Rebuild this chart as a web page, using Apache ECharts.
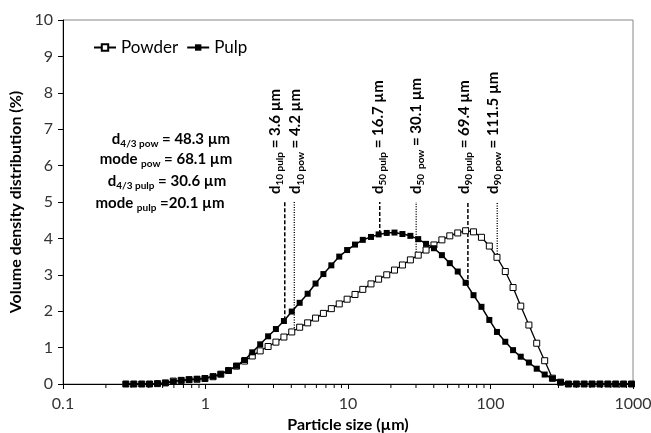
<!DOCTYPE html>
<html>
<head>
<meta charset="utf-8">
<script src="https://cdn.jsdelivr.net/npm/echarts@6/dist/echarts.min.js"></script>
<style>
  html, body { margin: 0; padding: 0; background: #fff; }
  #myChart { width: 651px; height: 433px; }
</style>
</head>
<body>
<div id="myChart"></div>
<script>
// particle size classes (µm)
var sizes = [0.276, 0.314, 0.357, 0.405, 0.460, 0.523, 0.594, 0.675, 0.767, 0.872,
    0.991, 1.13, 1.28, 1.45, 1.65, 1.88, 2.13, 2.42, 2.75, 3.12,
    3.55, 4.03, 4.58, 5.21, 5.92, 6.72, 7.64, 8.68, 9.86, 11.2,
    12.7, 14.5, 16.4, 18.7, 21.2, 24.1, 27.4, 31.1, 35.3, 40.1,
    45.6, 51.8, 58.9, 66.9, 76.0, 86.4, 98.1, 111, 127, 144,
    163, 186, 211, 240, 272, 310, 352, 400, 454, 516,
    586, 666, 756, 859, 976];

var powder = [0, 0, 0, 0, 0.01, 0.03, 0.08, 0.10, 0.12, 0.13,
    0.15, 0.20, 0.27, 0.37, 0.49, 0.63, 0.77, 0.91, 1.03, 1.15,
    1.29, 1.43, 1.56, 1.68, 1.81, 1.94, 2.07, 2.20, 2.33, 2.46,
    2.60, 2.75, 2.88, 3.00, 3.13, 3.27, 3.41, 3.54, 3.68, 3.82,
    3.96, 4.07, 4.15, 4.21, 4.18, 4.03, 3.79, 3.48, 3.09, 2.65,
    2.14, 1.62, 1.12, 0.64, 0.16, 0.05, 0, 0, 0, 0,
    0, 0, 0, 0, 0];

var pulp = [0, 0, 0, 0, 0.01, 0.03, 0.07, 0.10, 0.12, 0.14,
    0.16, 0.21, 0.27, 0.37, 0.50, 0.66, 0.87, 1.09, 1.31, 1.51,
    1.73, 1.99, 2.23, 2.48, 2.76, 3.02, 3.26, 3.50, 3.68, 3.83,
    3.96, 4.04, 4.11, 4.15, 4.16, 4.12, 4.07, 3.98, 3.85, 3.73,
    3.54, 3.32, 3.09, 2.78, 2.44, 2.12, 1.76, 1.43, 1.16, 0.93,
    0.75, 0.59, 0.42, 0.26, 0.15, 0.05, 0, 0, 0, 0,
    0, 0, 0, 0, 0];

// d10 / d50 / d90 markers
var dSubs = ['10 pulp', '10 pow', '50 pulp', '50  pow', '90 pulp', '90 pow'];
var dValues = [3.6, 4.2, 16.7, 30.1, 69.4, 111.5];
var dTexts = ['= 3.6 µm', '= 4.2 µm', '= 16.7 µm', '= 30.1 µm', '= 69.4 µm', '= 111.5 µm'];
var dBottom = [1.75, 1.47, 4.12, 3.55, 2.72, 3.50];
var dTop = 5.0;
// sideways nudge of each rotated label (px, negative = left)
var dShift = [-10, 1, -2, 0, -4, -4];

var xTickLabels = ['0.1', '1', '10', '100', '1000'];
var xMinorTicks = [0.2, 0.3, 0.4, 0.5, 0.6, 0.7, 0.8, 0.9,
    2, 3, 4, 5, 6, 7, 8, 9,
    20, 30, 40, 50, 60, 70, 80, 90,
    200, 300, 400, 500, 600, 700, 800, 900];

var FONT = 'Lato, "Open Sans", sans-serif';

function pairs(xs, ys) {
    var out = [];
    for (var i = 0; i < xs.length; i++) out.push([xs[i], ys[i]]);
    return out;
}

var richLabel = {
    b: { fontSize: 15, fontWeight: 'bold', fontFamily: FONT, color: '#000', lineHeight: 20, verticalAlign: 'middle' },
    s: { fontSize: 10, fontWeight: 'bold', fontFamily: FONT, color: '#000', lineHeight: 10, verticalAlign: 'bottom' }
};

var series = [];

// vertical d-lines with rotated labels
for (var k = 0; k < dValues.length; k++) {
    var isPulp = dSubs[k].indexOf('pulp') >= 0;
    series.push({
        type: 'line',
        silent: true,
        symbol: 'circle',
        symbolSize: 0,
        showSymbol: true,
        z: 1,
        itemStyle: { color: 'transparent' },
        lineStyle: { color: '#000', width: isPulp ? 1.5 : 1.4, type: isPulp ? [4, 2] : [1, 1.5] },
        // label is rotated, so dy moves it sideways on screen
        labelLayout: { hideOverlap: false, dy: dShift[k] },
        data: [
            [dValues[k], dBottom[k]],
            {
                value: [dValues[k], dTop],
                label: {
                    show: true,
                    position: 'top',
                    distance: 8,
                    rotate: 90,
                    align: 'left',
                    verticalAlign: 'middle',
                    formatter: '{b|d}{s|' + dSubs[k] + '}{b| ' + dTexts[k] + '}',
                    rich: richLabel
                }
            }
        ]
    });
}

series.push({
    name: 'Powder',
    type: 'line',
    z: 3,
    symbol: 'rect',
    symbolSize: 6,
    lineStyle: { color: '#000', width: 1.3 },
    itemStyle: { color: '#fff', borderColor: '#000', borderWidth: 1 },
    data: pairs(sizes, powder)
});

series.push({
    name: 'Pulp',
    type: 'line',
    z: 4,
    symbol: 'rect',
    symbolSize: 6,
    lineStyle: { color: '#000', width: 1.5 },
    itemStyle: { color: '#000' },
    data: pairs(sizes, pulp)
});

// minor log ticks under the x axis
series.push({
    type: 'custom',
    silent: true,
    clip: false,
    z: 5,
    data: xMinorTicks.map(function (v) { return [v, 0]; }),
    renderItem: function (params, api) {
        var p = api.coord([api.value(0), 0]);
        return {
            type: 'line',
            shape: { x1: p[0], y1: p[1], x2: p[0], y2: p[1] + 4 },
            style: { stroke: '#000', lineWidth: 1 }
        };
    }
});

function noteText(x, y, str) {
    return {
        type: 'text',
        x: x, y: y,
        style: { text: str, align: 'center', verticalAlign: 'middle', rich: richLabel }
    };
}

var myChart = echarts.init(document.getElementById('myChart'));
myChart.setOption({
    animation: false,
    backgroundColor: '#fff',
    grid: {
        left: 63, right: 18, top: 20, bottom: 49,
        show: true, borderColor: '#888', borderWidth: 1,
        outerBoundsMode: 'none'
    },
    legend: {
        data: ['Powder', 'Pulp'],
        left: 88, top: 34,
        itemWidth: 22, itemHeight: 8, itemGap: 8,
        textStyle: { fontSize: 17, fontFamily: FONT, color: '#000' }
    },
    xAxis: {
        type: 'log',
        logBase: 10,
        min: 0.1,
        max: 1000,
        name: 'Particle size (µm)',
        nameLocation: 'middle',
        nameGap: 30,
        nameTextStyle: { fontSize: 16, fontWeight: 'bold', fontFamily: FONT, color: '#000' },
        axisLine: { lineStyle: { color: '#000', width: 1 } },
        axisTick: { show: true, inside: false, length: 5, lineStyle: { color: '#000' } },
        axisLabel: {
            margin: 12, fontSize: 16, fontFamily: FONT, color: '#333',
            formatter: function (v) {
                var i = Math.round(Math.log10(v)) + 1;
                return xTickLabels[i] !== undefined ? xTickLabels[i] : '';
            }
        },
        splitLine: { show: false }
    },
    yAxis: {
        type: 'value',
        min: 0,
        max: 10,
        interval: 1,
        name: 'Volume density distribution (%)',
        nameLocation: 'middle',
        nameGap: 33,
        nameTextStyle: { fontSize: 16, fontWeight: 'bold', fontFamily: FONT, color: '#000' },
        axisLine: { show: true, lineStyle: { color: '#000', width: 1 } },
        axisTick: { show: true, inside: false, length: 5, lineStyle: { color: '#000' } },
        axisLabel: { margin: 10, fontSize: 16, fontFamily: FONT, color: '#333' },
        splitLine: { show: false }
    },
    graphic: [
        noteText(171, 139, '{b|d}{s|4/3 pow}{b| = 48.3 µm}'),
        noteText(166, 159, '{b|mode }{s|pow}{b| = 68.1 µm}'),
        noteText(167, 181, '{b|d}{s|4/3 pulp}{b| = 30.6 µm}'),
        noteText(160, 203, '{b|mode }{s|pulp}{b| =20.1 µm}')
    ],
    series: series
});
</script>
</body>
</html>
